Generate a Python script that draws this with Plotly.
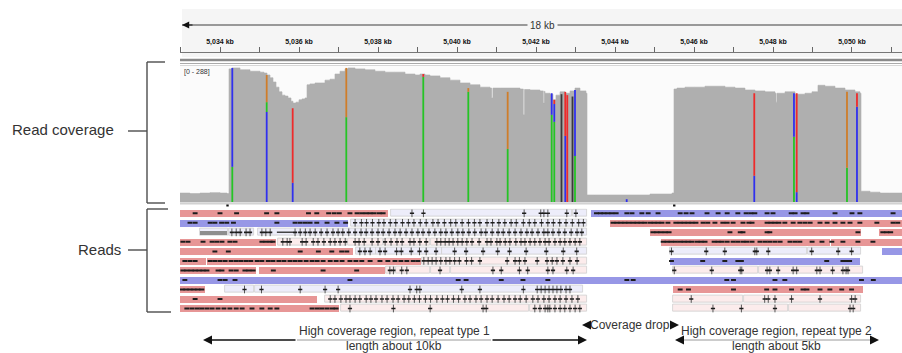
import plotly.graph_objects as go

W, H = 902, 353

# ---------------- data ----------------
X_MIN_KB = 5032.987
X_MAX_KB = 5051.266
TICK_KB = list(range(5033, 5052))
LABEL_KB = [5034, 5036, 5038, 5040, 5042, 5044, 5046, 5048, 5050]
COV_MAX = 288

COV_POS_KB = [
    5032.987, 5033.240, 5033.493, 5033.747, 5034.000, 5034.177, 5034.228, 5034.304, 5034.405, 5034.506,
    5034.633, 5034.759, 5034.886, 5035.013, 5035.114, 5035.190, 5035.266, 5035.342, 5035.418, 5035.494,
    5035.570, 5035.646, 5035.722, 5035.797, 5035.848, 5035.924, 5036.000, 5036.076, 5036.152, 5036.203,
    5036.278, 5036.405, 5036.532, 5036.658, 5036.785, 5036.911, 5037.038, 5037.165, 5037.241, 5037.418,
    5037.671, 5037.924, 5038.177, 5038.430, 5038.684, 5038.937, 5039.063, 5039.190, 5039.316, 5039.570,
    5039.823, 5040.076, 5040.329, 5040.582, 5040.835, 5040.878, 5040.910, 5041.089, 5041.342, 5041.595,
    5041.678, 5041.710, 5041.848, 5042.101, 5042.184, 5042.210, 5042.228, 5042.354, 5042.430, 5042.506,
    5042.608, 5042.734, 5042.861, 5042.987, 5043.114, 5043.265, 5043.291, 5043.493, 5043.873, 5044.380,
    5044.886, 5045.266, 5045.443, 5045.494, 5045.570, 5045.772, 5046.025, 5046.278, 5046.532, 5046.785,
    5047.038, 5047.291, 5047.544, 5047.797, 5048.051, 5048.076, 5048.100, 5048.304, 5048.557, 5048.810,
    5048.987, 5049.139, 5049.316, 5049.570, 5049.823, 5050.076, 5050.203, 5050.228, 5050.456, 5050.709,
    5050.962, 5051.266,
]
COV_DEPTH = [
    19, 18, 19, 20, 19, 18, 284, 286, 286, 282,
    282, 279, 279, 277, 275, 271, 265, 256, 245, 235,
    228, 226, 222, 215, 211, 213, 218, 220, 222, 250,
    252, 254, 254, 260, 262, 273, 279, 284, 286, 284,
    282, 279, 277, 277, 273, 271, 273, 271, 269, 265,
    260, 254, 250, 245, 243, 222, 243, 243, 243, 241,
    186, 240, 239, 237, 211, 236, 232, 230, 218, 228,
    235, 232, 237, 243, 237, 232, 15, 15, 15, 15,
    17, 17, 19, 241, 243, 245, 245, 247, 247, 245,
    243, 239, 237, 235, 232, 213, 232, 235, 230, 232,
    235, 249, 247, 243, 239, 235, 232, 23, 21, 19,
    19, 19,
]

# allele-frequency segments in the coverage track
MM_POS_KB = [5034.311, 5034.311, 5035.182, 5035.182, 5035.182, 5035.840, 5035.840,
             5037.197, 5037.197, 5039.146, 5039.146, 5040.286, 5040.286, 5041.283, 5041.283,
             5042.397, 5042.397, 5042.463, 5042.463, 5042.463, 5042.645, 5042.741, 5042.741,
             5042.792, 5042.924, 5042.987, 5042.987, 5044.296, 5047.526, 5047.526,
             5048.531, 5048.531, 5048.600, 5048.600, 5049.873, 5049.873, 5050.126, 5050.126]
MM_BASE = ['A', 'C', 'C', 'A', 'G', 'C', 'T',
           'A', 'G', 'A', 'T', 'A', 'G', 'A', 'G',
           'A', 'C', 'A', 'C', 'T', 'N', 'C', 'T',
           'T', 'N', 'A', 'C', 'C', 'C', 'T',
           'A', 'C', 'C', 'T', 'A', 'G', 'C', 'T']
MM_FROM = [0, 75, 0, 192, 213, 0, 41,
           0, 181, 0, 267, 0, 235, 0, 113,
           0, 186, 0, 171, 209, 0, 0, 141,
           0, 0, 0, 98, 0, 0, 56,
           0, 139, 0, 21, 0, 73, 0, 203]
MM_TO = [75, 286, 192, 213, 271, 41, 200,
         181, 286, 267, 273, 235, 243, 113, 235,
         186, 232, 171, 209, 218, 230, 141, 235,
         228, 225, 98, 239, 6, 56, 232,
         139, 232, 21, 232, 73, 235, 203, 232]

# alignments (row, start, end, strand, MAPQ0)
READ_ROW = [0, 0, 0, 0,
            1, 1, 1,
            2, 2, 2, 2, 2,
            3, 3, 3, 3, 3, 3, 3,
            4, 4, 4, 4, 4, 4, 4,
            5, 5, 5, 5,
            6, 6, 6, 6, 6, 6, 6, 6, 6,
            7,
            8, 8, 8, 8,
            9, 9, 9, 9,
            10, 10, 10, 10, 10]
READ_START_KB = [5032.90, 5038.32, 5042.93, 5043.39,
                 5032.90, 5037.31, 5043.87,
                 5033.49, 5034.22, 5034.96, 5044.89, 5050.69,
                 5032.90, 5035.47, 5037.24, 5038.15, 5039.34, 5045.16, 5049.47,
                 5032.90, 5037.44, 5037.96, 5039.63, 5045.39, 5048.88, 5050.75,
                 5032.90, 5033.67, 5039.11, 5045.39,
                 5032.90, 5034.98, 5038.20, 5038.46, 5039.34, 5039.84, 5042.46, 5045.48, 5047.64,
                 5032.90,
                 5032.90, 5034.13, 5034.88, 5045.48,
                 5032.90, 5036.66, 5045.48, 5047.26,
                 5032.90, 5037.06, 5041.85, 5045.48, 5048.40]
READ_END_KB = [5038.25, 5042.90, 5043.28, 5051.40,
               5037.23, 5043.28, 5051.40,
               5034.20, 5034.86, 5043.28, 5050.22, 5051.40,
               5035.42, 5037.22, 5038.13, 5039.32, 5043.28, 5049.44, 5051.40,
               5037.37, 5037.94, 5039.61, 5043.28, 5048.85, 5050.22, 5051.40,
               5033.65, 5039.08, 5043.28, 5050.20,
               5034.91, 5038.17, 5038.44, 5039.32, 5039.82, 5042.44, 5043.28, 5047.62, 5050.27,
               5051.40,
               5033.62, 5034.86, 5043.19, 5050.27,
               5036.46, 5043.28, 5047.24, 5050.24,
               5037.01, 5041.83, 5043.28, 5048.38, 5050.22]
READ_STRAND = ['+', '-', '-', '-',
               '-', '-', '+',
               '-', '-', '-', '+', '+',
               '+', '+', '+', '+', '+', '+', '+',
               '+', '-', '-', '-', '-', '-', '-',
               '+', '+', '+', '-',
               '+', '+', '+', '+', '+', '+', '+', '+', '+',
               '-',
               '+', '-', '-', '+',
               '+', '+', '+', '+',
               '+', '+', '+', '+', '+']
READ_MAPQ0 = [0, 1, 1, 0,
              0, 1, 0,
              1, 1, 1, 0, 0,
              0, 1, 1, 1, 1, 0, 0,
              0, 1, 1, 1, 1, 1, 0,
              0, 0, 1, 0,
              0, 0, 1, 1, 1, 1, 1, 1, 1,
              0,
              0, 1, 1, 0,
              0, 1, 1, 1,
              0, 1, 1, 1, 1]

CLIP_ROW = [2]
CLIP_START_KB = [5033.49]
CLIP_END_KB = [5034.17]
DEL_ROW = [2]
DEL_START_KB = [5035.44]
DEL_END_KB = [5035.85]

# mismatch / insertion marks per row
READ_MISMATCH_KB = [
    [5033.37, 5034.00, 5034.42, 5035.18, 5035.44, 5036.24, 5036.45, 5036.75, 5036.89, 5037.02,
     5037.29, 5037.47, 5037.59, 5037.70, 5037.80, 5037.90, 5038.03, 5038.13,
     5038.86, 5039.15, 5041.70, 5042.12, 5042.20, 5042.30, 5042.78, 5043.01,
     5043.53, 5043.63, 5043.72, 5043.82, 5043.92, 5044.03, 5044.30, 5044.43, 5044.68, 5044.84,
     5045.09, 5045.65, 5045.80, 5045.95, 5046.33, 5046.61, 5046.84, 5047.11, 5047.32, 5047.44,
     5047.54, 5047.85, 5048.00, 5048.46, 5048.56, 5048.76, 5048.86, 5049.57, 5050.00, 5050.20, 5051.04],
    [5033.24, 5033.37, 5033.75, 5033.87, 5034.04, 5034.17, 5034.34, 5035.44, 5035.90, 5036.03,
     5036.16, 5036.28, 5036.45, 5036.71, 5036.96, 5037.18,
     5037.42, 5037.58, 5037.71, 5037.86, 5038.02, 5038.15, 5038.31, 5038.45, 5038.62, 5038.77,
     5038.91, 5039.07, 5039.22, 5039.39, 5039.52, 5039.68, 5039.84, 5039.97, 5040.13, 5040.29,
     5040.44, 5040.58, 5040.76, 5040.90, 5041.06, 5041.21, 5041.37, 5041.50, 5041.68, 5041.83,
     5041.97, 5042.14, 5042.30, 5042.44, 5042.60, 5042.76, 5042.92, 5043.08, 5043.20,
     5043.95, 5044.05, 5044.15, 5044.25, 5044.35, 5044.46, 5044.56, 5044.66, 5044.76, 5044.89,
     5044.99, 5045.09, 5045.19, 5045.34, 5045.54, 5045.65, 5045.75, 5045.85, 5045.95, 5046.05,
     5046.23, 5046.35, 5046.53, 5046.73, 5046.84, 5046.99, 5047.24, 5047.39, 5047.47, 5047.85,
     5047.95, 5048.05, 5048.15, 5048.30, 5048.51, 5048.68, 5048.81, 5048.94, 5049.19, 5049.37,
     5049.57, 5049.77, 5049.95, 5050.20, 5050.63, 5051.04, 5051.16],
    [5034.30, 5034.41, 5034.51, 5034.66, 5034.76, 5035.06, 5035.16, 5035.27,
     5035.90, 5036.03, 5036.16, 5036.28, 5036.41, 5036.56, 5036.71, 5036.86, 5036.99, 5037.11,
     5037.26, 5037.42, 5037.57, 5037.70, 5037.85, 5038.00, 5038.13, 5038.28, 5038.43, 5038.56,
     5038.71, 5038.86, 5039.01, 5039.14, 5039.29, 5039.44, 5039.59, 5039.72, 5039.87, 5040.02,
     5040.15, 5040.30, 5040.45, 5040.61, 5040.73, 5040.89, 5041.04, 5041.17, 5041.32, 5041.47,
     5041.62, 5041.77, 5041.90, 5042.05, 5042.20, 5042.30, 5042.43, 5042.58, 5042.73, 5042.89,
     5043.04, 5043.16,
     5044.96, 5045.06, 5045.16, 5045.27, 5045.37, 5046.91, 5047.17, 5047.24, 5047.85, 5047.92,
     5050.15, 5050.78, 5050.88, 5050.98],
    [5033.06, 5033.19, 5033.57, 5033.80, 5033.92, 5034.05, 5034.25, 5034.38, 5035.06, 5035.16,
     5035.27, 5035.34,
     5035.59, 5035.70, 5035.77, 5036.08, 5036.18, 5036.36, 5036.48, 5036.63, 5036.79, 5036.91,
     5037.04, 5037.17, 5037.42, 5037.52, 5037.65, 5037.85, 5038.00, 5038.18, 5038.33, 5038.48,
     5038.61, 5038.81, 5038.91, 5039.06, 5039.22, 5039.49, 5039.59, 5039.70, 5039.80, 5039.90,
     5040.02, 5040.13, 5040.25, 5040.38, 5040.56, 5040.76, 5040.86, 5041.01, 5041.09, 5041.22,
     5041.34, 5041.49, 5041.62, 5041.72, 5041.85, 5041.97, 5042.10, 5042.23, 5042.33, 5042.48,
     5042.61, 5042.73, 5042.86, 5042.99, 5043.11,
     5045.22, 5045.32, 5045.42, 5045.53, 5045.65, 5045.75, 5045.85, 5045.95, 5046.08, 5046.18,
     5046.28, 5046.51, 5046.61, 5046.71, 5046.84, 5046.99, 5047.11, 5047.24, 5047.34, 5047.47,
     5047.67, 5047.80, 5047.92, 5048.05, 5048.18, 5048.43, 5048.56, 5048.68, 5048.99, 5049.24,
     5049.49, 5049.77, 5050.15, 5050.53],
    [5033.87, 5034.21, 5036.03, 5036.49, 5036.83, 5037.08, 5037.21,
     5037.54, 5037.67, 5037.80, 5038.05, 5038.18, 5038.47, 5038.59, 5038.84, 5039.05, 5039.22,
     5039.47, 5039.94, 5040.23, 5040.66, 5041.03, 5041.33, 5041.75, 5042.26, 5042.69, 5043.03,
     5045.43, 5046.31, 5046.78, 5047.54, 5047.59, 5047.88, 5048.98, 5049.65, 5049.99],
    [5033.11, 5033.24, 5033.37,
     5033.75, 5033.87, 5034.00, 5034.13, 5034.28, 5034.41, 5034.53, 5034.66, 5034.78, 5034.94,
     5035.06, 5035.22, 5035.34, 5035.49, 5035.62, 5035.77, 5035.90, 5036.03, 5036.18, 5036.33,
     5036.46, 5036.61, 5036.79, 5036.94, 5037.09, 5037.29, 5037.44, 5037.59, 5037.80, 5038.05,
     5038.25, 5038.43, 5038.58, 5038.73, 5038.89, 5039.01,
     5039.16, 5039.27, 5039.37, 5039.47, 5039.59, 5039.72, 5039.82, 5039.94, 5040.06, 5040.24,
     5040.37, 5040.58, 5041.27, 5041.47, 5041.58, 5041.72, 5042.03, 5042.28, 5042.41, 5042.53,
     5042.68, 5042.86, 5043.04,
     5045.43, 5046.22, 5046.78, 5047.11, 5047.20, 5049.36, 5049.77, 5049.87, 5049.94],
    [5033.06, 5033.16, 5033.27, 5033.37, 5033.47, 5033.57, 5033.67, 5033.95, 5034.05, 5034.28,
     5034.41, 5034.63, 5034.73, 5034.84,
     5035.35, 5036.61, 5037.46,
     5038.30, 5038.39, 5038.60, 5038.73, 5039.57, 5040.91, 5041.12, 5041.58, 5041.79, 5042.30,
     5042.43, 5042.78, 5042.94,
     5045.50, 5046.45, 5047.17, 5047.21, 5047.85, 5047.92, 5048.13, 5048.51, 5048.60, 5049.11,
     5049.19, 5049.51, 5049.77, 5049.85, 5049.90],
    [5033.11, 5034.00, 5034.13, 5034.38, 5037.29, 5040.03, 5040.23, 5041.12, 5041.67, 5042.30,
     5044.30, 5044.46, 5046.83, 5047.00, 5048.05, 5048.30, 5050.24, 5050.54],
    [5033.04, 5033.14, 5033.24, 5033.34, 5033.44, 5033.54,
     5034.62, 5035.05, 5036.03, 5036.66, 5036.99, 5038.81, 5038.98, 5039.06, 5040.12, 5040.58,
     5041.68, 5042.03, 5042.13, 5042.23, 5042.33, 5042.43, 5042.53, 5042.63, 5042.76, 5042.86,
     5045.65, 5045.86, 5047.00, 5047.84, 5048.05, 5048.47, 5048.76, 5048.86, 5049.19, 5049.44,
     5049.74, 5049.99],
    [5033.37, 5034.00,
     5036.79, 5036.91, 5037.06, 5037.19, 5037.29, 5037.42, 5037.54, 5037.70, 5037.82, 5037.95,
     5038.10, 5038.23, 5038.38, 5038.51, 5038.66, 5038.78, 5038.92, 5039.05, 5039.20, 5039.33,
     5039.49, 5039.63, 5039.76, 5039.91, 5040.04, 5040.20, 5040.33, 5040.48, 5040.61, 5040.76,
     5040.89, 5041.04, 5041.19, 5041.32, 5041.47, 5041.60, 5041.75, 5041.92, 5042.05, 5042.20,
     5042.33, 5042.48, 5042.61, 5042.76, 5042.91, 5043.06,
     5045.93, 5047.79, 5047.88, 5048.05, 5048.47, 5049.19, 5049.99, 5050.08],
    [5033.16, 5033.29, 5033.42, 5033.54, 5033.67, 5033.80, 5033.95, 5034.10, 5034.25, 5034.41,
     5034.56, 5034.81, 5035.06, 5035.27, 5035.44, 5036.33, 5036.46, 5036.58, 5036.71, 5036.84,
     5036.94,
     5037.29, 5038.39, 5039.32, 5040.66, 5040.74, 5041.97, 5042.10, 5042.23, 5042.30, 5042.35,
     5042.48, 5042.61, 5042.73, 5042.86, 5042.99, 5043.11,
     5046.48, 5047.20, 5048.05, 5049.95, 5050.03],
]

CENTER_MARK_KB = [5034.19, 5045.50]

# ---------------- styling ----------------
BASE_COLOR = {'A': '#25c425', 'C': '#3030ee', 'G': '#cf7d2a', 'T': '#ee2b2b', 'N': '#3a3a3a'}
READ_COLOR = {('+', 0): '#e79696', ('-', 0): '#9797e6', ('+', 1): '#fcecec', ('-', 1): '#ededfa'}
FONT = 'Liberation Sans, Arial, sans-serif'


def px_x(p):
    return p / W


def px_y(p):
    return (H - p) / H


# coverage axis: depth 0 at y=202px, 288 at y=67px ; reads: rows centred 213.3 .. 308.5 px
COV_DOM = [px_y(202), px_y(67)]
ROW_H = 9.52
READS_DOM = [px_y(213.3 + 10.5 * ROW_H), px_y(213.3 - 0.5 * ROW_H)]

fig = go.Figure()

# reads (bars are drawn beneath scatter layers)
for key, col in READ_COLOR.items():
    idx = [i for i in range(len(READ_ROW)) if (READ_STRAND[i], READ_MAPQ0[i]) == key]
    fig.add_trace(go.Bar(
        orientation='h',
        y=[READ_ROW[i] for i in idx],
        x=[READ_END_KB[i] - READ_START_KB[i] for i in idx],
        base=[READ_START_KB[i] for i in idx],
        width=0.74,
        marker=dict(color=col,
                    line=dict(width=0.8 if key[1] else 0, color='#cfcfcf')),
        xaxis='x', yaxis='y3', hoverinfo='skip'))

# soft-clipped / low quality block
fig.add_trace(go.Bar(
    orientation='h', y=CLIP_ROW,
    x=[e - s for s, e in zip(CLIP_START_KB, CLIP_END_KB)], base=CLIP_START_KB,
    width=0.42, marker=dict(color='#8e8e8e', line=dict(width=0)),
    xaxis='x', yaxis='y3', hoverinfo='skip'))

# coverage
fig.add_trace(go.Scatter(
    x=COV_POS_KB + [X_MAX_KB + 0.1], y=COV_DEPTH + [COV_DEPTH[-1]],
    mode='lines', line=dict(shape='hv', width=0.6, color='#aeaeae'),
    fill='tozeroy', fillcolor='#afafaf', xaxis='x', yaxis='y2', hoverinfo='skip'))

# allele-frequency segments
for b in ['A', 'C', 'G', 'T', 'N']:
    xs, ys = [], []
    for i, v in enumerate(MM_BASE):
        if v == b:
            xs += [MM_POS_KB[i], MM_POS_KB[i], None]
            ys += [MM_FROM[i], MM_TO[i], None]
    fig.add_trace(go.Scatter(x=xs, y=ys, mode='lines',
                             line=dict(color=BASE_COLOR[b], width=1.8),
                             xaxis='x', yaxis='y2', hoverinfo='skip'))

# deletions
for r, s, e in zip(DEL_ROW, DEL_START_KB, DEL_END_KB):
    fig.add_trace(go.Scatter(x=[s, e], y=[r, r], mode='lines',
                             line=dict(color='#444', width=1.5),
                             xaxis='x', yaxis='y3', hoverinfo='skip'))


def mapq0_at(row, kb):
    for i in range(len(READ_ROW)):
        if READ_ROW[i] == row and READ_START_KB[i] <= kb <= READ_END_KB[i]:
            return READ_MAPQ0[i]
    return 0


sx, sy, px_, py_ = [], [], [], []
for r, marks in enumerate(READ_MISMATCH_KB):
    for kb in marks:
        if mapq0_at(r, kb):
            px_.append(kb)
            py_.append(r)
        else:
            sx.append(kb)
            sy.append(r)

fig.add_trace(go.Scatter(x=sx, y=sy, mode='markers',
                         marker=dict(symbol='line-ew-open', size=3.5, color='#1c1c1c',
                                     line=dict(width=2, color='#1c1c1c')),
                         xaxis='x', yaxis='y3', hoverinfo='skip'))
fig.add_trace(go.Scatter(x=px_, y=py_, mode='markers',
                         marker=dict(symbol='line-ns-open', size=5.5, color='#555',
                                     line=dict(width=1, color='#555')),
                         xaxis='x', yaxis='y3', hoverinfo='skip'))
fig.add_trace(go.Scatter(x=px_, y=py_, mode='markers',
                         marker=dict(symbol='line-ew-open', size=3, color='#1c1c1c',
                                     line=dict(width=1.6, color='#1c1c1c')),
                         xaxis='x', yaxis='y3', hoverinfo='skip'))

# ---------------- decorations ----------------
shapes = []
shapes.append(dict(type='rect', xref='paper', yref='paper', x0=px_x(182), x1=1,
                   y0=px_y(57), y1=px_y(9), fillcolor='#f5f5f5', line=dict(width=0), layer='below'))
shapes.append(dict(type='rect', xref='paper', yref='paper', x0=px_x(180), x1=1,
                   y0=px_y(202), y1=px_y(66), fillcolor='#fbfbfb', line=dict(width=0), layer='below'))
for y0, y1, c in [(58.8, 61.3, '#8a8a8a'), (63.0, 64.0, '#aaaaaa'), (65.2, 66.0, '#cacaca'),
                  (202.3, 204.6, '#d2d2d2')]:
    shapes.append(dict(type='rect', xref='paper', yref='paper', x0=px_x(180), x1=1,
                       y0=px_y(y1), y1=px_y(y0), fillcolor=c, line=dict(width=0)))
shapes.append(dict(type='line', xref='x', yref='paper', x0=X_MIN_KB + 0.05, x1=X_MAX_KB,
                   y0=px_y(25), y1=px_y(25), line=dict(color='#7a7a7a', width=1.5)))
for kb in CENTER_MARK_KB:
    shapes.append(dict(type='rect', xref='x', yref='paper', x0=kb - 0.03, x1=kb + 0.03,
                       y0=px_y(206.5), y1=px_y(204.5), fillcolor='#111', line=dict(width=0)))
BR = dict(color='#4d4d4d', width=1.4)


def seg(x0, y0, x1, y1, line=BR):
    shapes.append(dict(type='line', xref='paper', yref='paper',
                       x0=px_x(x0), x1=px_x(x1), y0=px_y(y0), y1=px_y(y1), line=line))


seg(147, 62, 147, 203)
seg(147, 62, 165, 62)
seg(147, 203, 165, 203)
seg(128, 131, 147, 131)
seg(147, 209, 147, 312)
seg(147, 209, 168, 209)
seg(147, 312, 171, 312)
seg(128, 250, 147, 250)
seg(297, 340, 491, 340, dict(color='#9a9a9a', width=1))
seg(682, 340, 870, 340, dict(color='#9a9a9a', width=1))

annotations = []


def text(x, y, s, size=12, anchor='center', color='#333', bg=None, fam=FONT):
    d = dict(x=px_x(x), y=px_y(y), xref='paper', yref='paper', text=s, showarrow=False,
             xanchor=anchor, yanchor='middle', font=dict(family=fam, size=size, color=color))
    if bg:
        d.update(bgcolor=bg, borderpad=2)
    annotations.append(d)


def arrow(tip, tail, y, w=1.5):
    annotations.append(dict(x=px_x(tip), y=px_y(y), xref='paper', yref='paper',
                            ax=tail - tip, ay=0, axref='pixel', ayref='pixel', text='',
                            showarrow=True, arrowhead=2, arrowsize=1.2, arrowwidth=w,
                            arrowcolor='#111', standoff=0, startstandoff=0))


text(542, 25, f"{round(X_MAX_KB - X_MIN_KB)} kb", size=10, color='#333', bg='#f5f5f5')
arrow(182, 194, 25, 1.2)
text(182, 72, f"[0 - {COV_MAX}]", size=7, anchor='left', color='#333')
text(10, 130, "Read coverage", size=15, anchor='left')
text(123, 249, "Reads", size=15, anchor='right')

text(630, 325, "Coverage drop", size=12)
arrow(582, 590, 325)
arrow(679, 670, 325)
text(394, 331, "High coverage region, repeat type 1", size=12)
text(394, 346, "length about 10kb", size=12)
arrow(203, 297, 340)
arrow(587, 491, 340)
text(776, 331, "High coverage region, repeat type 2", size=12)
text(776, 346, "length about 5kb", size=12)
arrow(675, 682, 340)
arrow(879, 870, 340)

fig.update_layout(
    width=W, height=H, margin=dict(l=0, r=0, t=0, b=0),
    paper_bgcolor='white', plot_bgcolor='white', showlegend=False,
    barmode='overlay', bargap=0,
    shapes=shapes, annotations=annotations,
    xaxis=dict(domain=[px_x(180), 1], range=[X_MIN_KB, X_MAX_KB], side='top',
               anchor='free', position=px_y(52), showline=True, linecolor='#777', linewidth=1,
               ticks='outside', ticklen=5, tickcolor='#666', tickwidth=1,
               tickvals=TICK_KB,
               ticktext=[f"<b>{k:,} kb</b>" if k in LABEL_KB else '' for k in TICK_KB],
               tickfont=dict(family=FONT, size=7, color='#111'),
               showgrid=False, zeroline=False, fixedrange=True),
    yaxis=dict(visible=False),
    yaxis2=dict(domain=COV_DOM, range=[0, COV_MAX], visible=False, anchor='x', fixedrange=True),
    yaxis3=dict(domain=READS_DOM, range=[10.5, -0.5], visible=False, anchor='x', fixedrange=True),
)

fig.write_html("out.html", config={'displayModeBar': False},
               post_script="document.body.style.margin='0';document.body.style.overflow='hidden';")
